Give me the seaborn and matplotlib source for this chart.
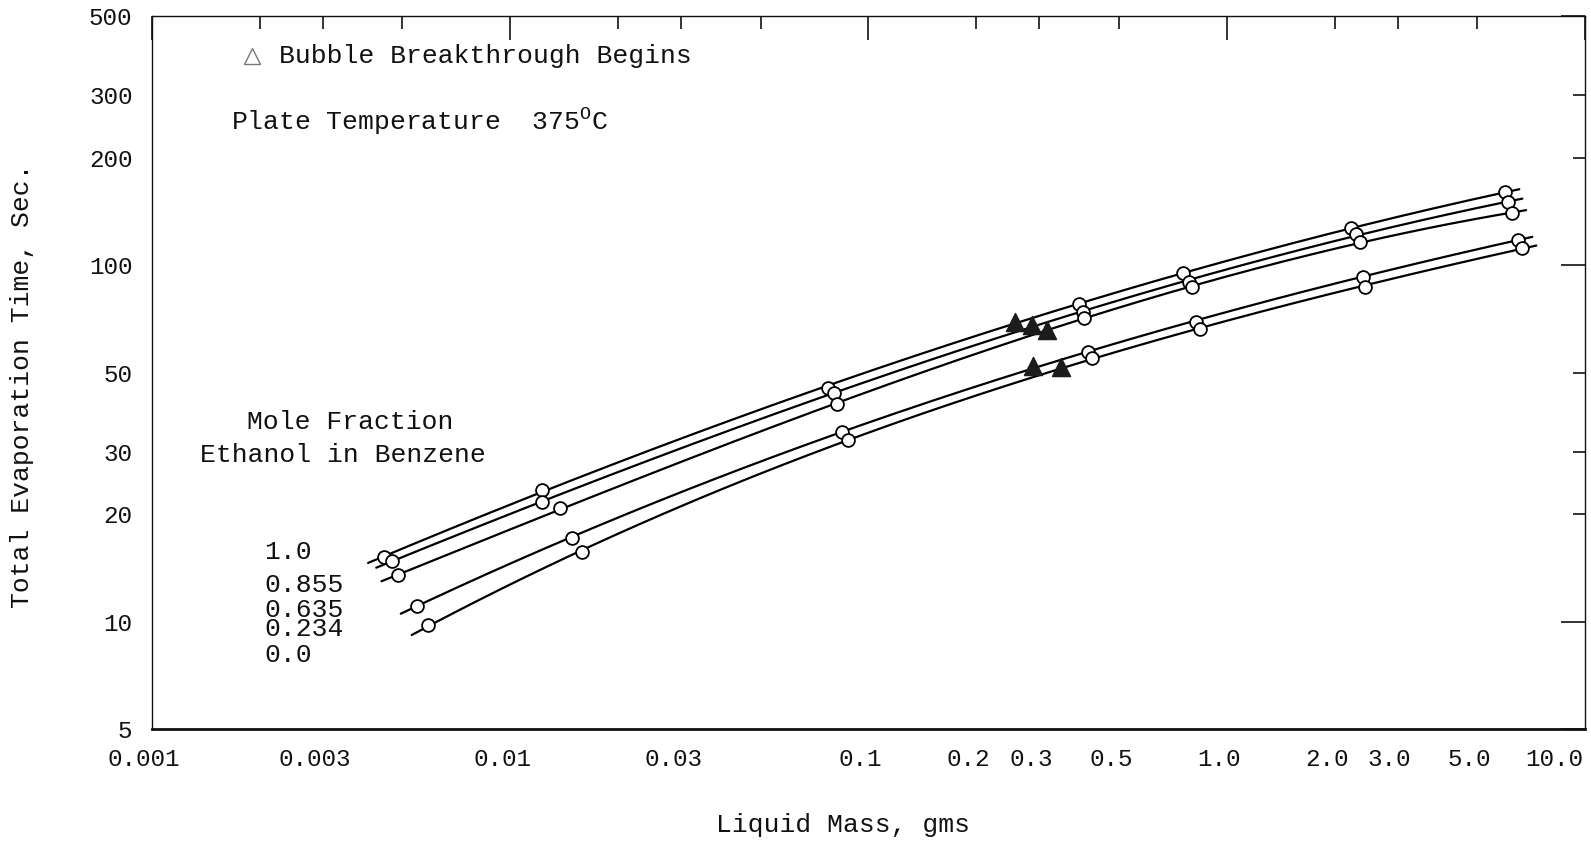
import numpy as np
import pandas as pd
import seaborn as sns
import matplotlib
matplotlib.use("Agg")
import matplotlib.pyplot as plt
import matplotlib.transforms as mtransforms
from matplotlib.ticker import FixedLocator, FixedFormatter

# Mole fraction of ethanol in benzene, one curve each
fractions = ["1.0", "0.855", "0.635", "0.234", "0.0"]

# Liquid mass (g) and total evaporation time (s), measured points
mass_100 = [0.00445, 0.0123, 0.077, 0.386, 0.754, 2.23, 5.98]
time_100 = [15.2, 23.4, 45.3, 77.6, 95.2, 127.0, 160.0]

mass_0855 = [0.00469, 0.01225, 0.0801, 0.396, 0.783, 2.29, 6.10]
time_0855 = [14.8, 21.7, 43.8, 73.9, 89.7, 122.0, 150.5]

mass_0635 = [0.00485, 0.0138, 0.0815, 0.400, 0.800, 2.35, 6.25]
time_0635 = [13.5, 20.8, 40.8, 71.1, 86.7, 116.5, 140.0]

mass_0234 = [0.00549, 0.0149, 0.0844, 0.409, 0.822, 2.40, 6.50]
time_0234 = [11.1, 17.2, 34.0, 57.0, 69.4, 92.6, 118.0]

mass_000 = [0.00589, 0.0159, 0.0878, 0.420, 0.840, 2.44, 6.67]
time_000 = [9.76, 15.7, 32.4, 54.8, 66.3, 86.7, 112.0]

# Onset of bubble breakthrough on each curve
bubble_mass = [0.256, 0.286, 0.316, 0.288, 0.345]
bubble_time = [69.4, 68.0, 65.9, 52.3, 51.8]

# Axis ticks
x_major = [0.001, 0.01, 0.1, 1.0, 10.0]
x_major_labels = ["0.001", "0.01", "0.1", "1.0", "10.0"]
x_minor = [0.002, 0.003, 0.005, 0.02, 0.03, 0.05, 0.2, 0.3, 0.5, 2.0, 3.0, 5.0]
x_minor_labels = ["", "0.003", "", "", "0.03", "", "0.2", "0.3", "0.5", "2.0", "3.0", "5.0"]
y_major = [5, 10, 100, 500]
y_major_labels = ["5", "10", "100", "500"]
y_minor = [20, 30, 50, 200, 300]
y_minor_labels = ["20", "30", "50", "200", "300"]

masses = [mass_100, mass_0855, mass_0635, mass_0234, mass_000]
times = [time_100, time_0855, time_0635, time_0234, time_000]

points = pd.DataFrame({
    "fraction": np.repeat(fractions, [len(m) for m in masses]),
    "mass": np.concatenate(masses),
    "time": np.concatenate(times),
})
bubbles = pd.DataFrame({"fraction": fractions, "mass": bubble_mass, "time": bubble_time})

sns.set_theme(style="white")
plt.rcParams["font.family"] = ["Liberation Mono", "DejaVu Sans Mono"]
plt.rcParams["mathtext.fontset"] = "custom"
plt.rcParams["mathtext.rm"] = "Liberation Mono"
plt.rcParams["text.color"] = "#111111"

fig = plt.figure(figsize=(15.91, 8.43), dpi=100)
ax = fig.add_axes([0.0955, 0.1352, 0.9007, 0.8458])
ax.set_xscale("log")
ax.set_yscale("log")

# Smooth curve through each set of points (cubic in log-log space)
for frac, m, t, bm, bt in zip(fractions, masses, times, bubble_mass, bubble_time):
    lx = np.log10(np.append(m, bm))
    ly = np.log10(np.append(t, bt))
    coef = np.polyfit(lx, ly, 3)
    gx = np.linspace(lx.min() - 0.045, lx.max() + 0.04, 200)
    gy = np.polyval(coef, gx)
    sns.lineplot(x=10 ** gx, y=10 ** gy, color="black", lw=1.6, sort=False,
                 estimator=None, ax=ax, zorder=2)

sns.scatterplot(data=points, x="mass", y="time", marker="o", s=85,
                color="white", edgecolor="black", linewidth=1.3,
                zorder=3, ax=ax, legend=False)
sns.scatterplot(data=bubbles, x="mass", y="time", marker="^", s=170,
                color="#1c1c1c", edgecolor="#1c1c1c", linewidth=1.0,
                zorder=4, ax=ax, legend=False)

ax.set_xlim(0.001, 10.0)
ax.set_ylim(5, 500)
ax.set_xlabel("")
ax.set_ylabel("")

ax.xaxis.set_major_locator(FixedLocator(x_major))
ax.xaxis.set_major_formatter(FixedFormatter(x_major_labels))
ax.xaxis.set_minor_locator(FixedLocator(x_minor))
ax.xaxis.set_minor_formatter(FixedFormatter(x_minor_labels))
ax.yaxis.set_major_locator(FixedLocator(y_major))
ax.yaxis.set_major_formatter(FixedFormatter(y_major_labels))
ax.yaxis.set_minor_locator(FixedLocator(y_minor))
ax.yaxis.set_minor_formatter(FixedFormatter(y_minor_labels))

ax.tick_params(which="both", direction="in", top=True, right=True,
               colors="#111111", labelsize=17.5, pad=14, width=1.2)
ax.tick_params(which="major", length=17)
ax.tick_params(which="minor", length=9)

shift = mtransforms.ScaledTranslation(-8 / 100, 0, fig.dpi_scale_trans)
for lbl in ax.get_xticklabels(which="both"):
    lbl.set_transform(lbl.get_transform() + shift)
# the last label sits flush against the right edge
last_tick = ax.xaxis.get_major_ticks()[-1]
last_tick.label1.set_horizontalalignment("right")
last_tick.label1.set_transform(last_tick.label1.get_transform()
                               + mtransforms.ScaledTranslation(6 / 100, 0, fig.dpi_scale_trans))

for side, lw in [("bottom", 2.0), ("left", 1.0), ("top", 1.0), ("right", 1.0)]:
    ax.spines[side].set_color("#111111")
    ax.spines[side].set_linewidth(lw)

txt = dict(transform=ax.transAxes, fontsize=19, va="center")
ax.plot([0.0698], [0.944], marker="^", ms=12, mfc="none", mec="#777777",
        mew=1.0, ls="none", transform=ax.transAxes)
ax.text(0.0886, 0.944, "Bubble Breakthrough Begins", ha="left", **txt)
ax.text(0.0553, 0.853, r"Plate Temperature  375$^{\mathrm{O}}$C", ha="left", **txt)
ax.text(0.1386, 0.4306, "Mole Fraction", ha="center", **txt)
ax.text(0.1333, 0.3849, "Ethanol in Benzene", ha="center", **txt)
for frac, yy in zip(fractions, [0.2483, 0.2013, 0.1669, 0.1403, 0.1045]):
    ax.text(0.0782, yy, frac, ha="left", **txt)

fig.text(843 / 1591, 1 - 825 / 843, "Liquid Mass, gms", ha="center", va="center", fontsize=19)
fig.text(22 / 1591, 1 - 386 / 843, "Total Evaporation Time, Sec.", ha="center",
         va="center", rotation=90, fontsize=19)

fig.savefig("out.png", dpi=100, facecolor="white")
